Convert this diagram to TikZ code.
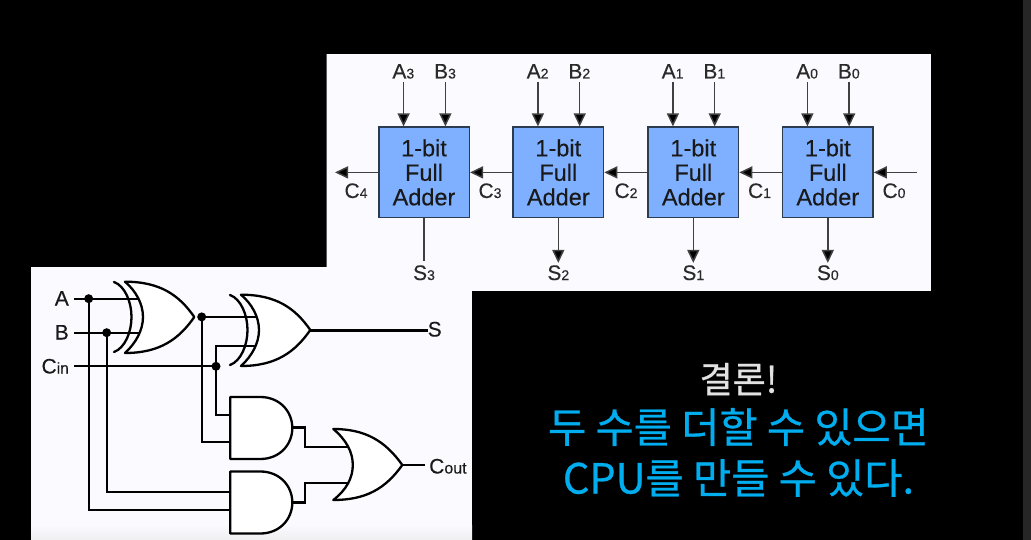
\documentclass[tikz,border=0pt]{standalone}
\usepackage{fontspec}
\setmainfont[FakeBold=0.2]{Liberation Sans}
\newfontfamily\krfont[FakeBold=0.7]{Noto Sans CJK KR}
\usetikzlibrary{arrows.meta}
\definecolor{panel}{HTML}{FAFAFF}
\definecolor{panellow}{HTML}{EFEFF2}
\definecolor{boxblue}{HTML}{7FB0FF}
\definecolor{boxedge}{HTML}{2B3B50}
\definecolor{ink}{HTML}{2A2A2A}
\definecolor{wire}{HTML}{404040}
\definecolor{headline}{HTML}{E2E2E2}
\definecolor{accent}{HTML}{00AEEF}
\definecolor{strip}{HTML}{262626}
\tikzset{
  x=1pt,y=-1pt,
  adder/.style={draw=boxedge,line width=1.5pt,fill=boxblue,minimum width=90.5pt,minimum height=90.5pt,inner sep=0pt,align=center,text=black!90,font=\fontsize{23.5}{24.5}\selectfont},
  lab/.style={inner sep=0pt,text=ink,font=\fontsize{21}{21}\selectfont},
  arrowwire/.style={draw=wire,line width=1.5pt,-{Triangle[length=13pt,width=12pt,fill=black]}},
  plainwire/.style={draw=wire,line width=1.5pt},
  logicwire/.style={draw=black,line width=2.2pt},
  gateline/.style={draw=black,line width=2.3pt,fill=white,line join=round},
  dot/.style={circle,fill=black,inner sep=0pt,minimum size=9pt},
  ctext/.style={inner sep=0pt,font=\krfont\fontsize{41.5}{41.5}\selectfont,text=accent},
  xorgate/.pic={
    \draw[draw=black,line width=2.3pt,line cap=round] (-11,-35) .. controls (0,-31) and (6.5,-15) .. (6.5,0) .. controls (6.5,15) and (0,31) .. (-11,35);
    \draw[gateline] (0,-35.3) .. controls (35,-35.3) and (54,-22) .. (69.3,0) .. controls (54,22) and (35,36) .. (0,36) .. controls (11,26) and (18,13) .. (18,0) .. controls (18,-13) and (11,-26) .. (0,-35.3) -- cycle;
  },
  andgate/.pic={
    \draw[gateline] (0,-31) -- (30,-31) .. controls (49,-31) and (62,-17) .. (62,0) .. controls (62,17) and (49,31) .. (30,31) -- (0,31) -- cycle;
  },
  orgate/.pic={
    \draw[gateline] (0,-36) .. controls (32,-36) and (52,-24) .. (69,0) .. controls (52,24) and (32,35) .. (0,35) .. controls (13,25) and (19.5,13) .. (19.5,0) .. controls (19.5,-13) and (13,-25) .. (0,-36) -- cycle;
  },
}
\newcommand{\sublab}[2]{#1{\fontsize{14}{14}\selectfont #2}}
\begin{document}
\begin{tikzpicture}
\useasboundingbox (0,0) rectangle (1031,540);
\fill[black] (0,0) rectangle (1031,540);
\fill[strip] (1023,0) rectangle (1031,540);
% top panel
\fill[panel] (326.5,54.5) rectangle (930.7,291);
\draw[draw=black!65,line width=1pt] (326.5,54.5) -- (326.5,267);
% bottom panel
\fill[panel] (31,267.5) rectangle (472,525);
\shade[top color=panel,bottom color=panellow] (31,525) rectangle (472,540);
% ---- ripple carry adder
\foreach \i/\cx in {3/424,2/558.3,1/693.3,0/827.8}{
  \node[adder] (fa\i) at (\cx,172.4) {1-bit\\Full\\Adder};
  \node[lab,anchor=base] (a\i) at (\cx-20.7,78.5) {\sublab{A}{\i}};
  \node[lab,anchor=base] (b\i) at (\cx+21,78.5) {\sublab{B}{\i}};
  \draw[arrowwire] (\cx-20.4,82) -- (\cx-20.4,126.4);
  \draw[arrowwire] (\cx+21.4,82) -- (\cx+21.4,126.4);
  \node[lab,anchor=base] (s\i) at (\cx,280) {\sublab{S}{\i}};
}
\draw[plainwire] (fa3.south) -- ++(0,43);
\foreach \i in {2,1,0}{
  \draw[arrowwire] (fa\i.south) -- ++(0,44.5);
}
\coordinate (cfour) at (335,172.4);
\coordinate (czero) at (917,172.4);
\draw[arrowwire] (fa3.west) -- (cfour);
\draw[arrowwire] (fa2.west) -- (fa3.east);
\draw[arrowwire] (fa1.west) -- (fa2.east);
\draw[arrowwire] (fa0.west) -- (fa1.east);
\draw[arrowwire] (czero) -- (fa0.east);
\node[lab,anchor=base] (c4) at (356,198) {\sublab{C}{4}};
\node[lab,anchor=base] (c3) at (490,198) {\sublab{C}{3}};
\node[lab,anchor=base] (c2) at (626,198) {\sublab{C}{2}};
\node[lab,anchor=base] (c1) at (759.5,198) {\sublab{C}{1}};
\node[lab,anchor=base] (c0) at (894,198) {\sublab{C}{0}};
% ---- full adder logic
\coordinate (astart) at (74.3,298.7);
\coordinate (bstart) at (74.3,332.7);
\coordinate (cstart) at (74.3,366.3);
\coordinate (adot) at (88.7,298.7);
\coordinate (bdot) at (106.7,332.7);
\coordinate (xdot) at (201.7,316.9);
\coordinate (cdot) at (216,366.3);
\node[lab,anchor=base east,text=black!90] (lA) at (69,305.5) {A};
\node[lab,anchor=base east,text=black!90] (lB) at (69,339.5) {B};
\node[lab,anchor=base east,text=black!90] (lC) at (69,373.5) {C{\fontsize{15.5}{15.5}\selectfont in}};
\node[lab,anchor=base west,text=black!90] (lS) at (427.5,336.5) {S};
\node[lab,anchor=base west,text=black!90] (lCo) at (429,473.5) {C{\fontsize{16}{16}\selectfont out}};
\draw[logicwire] (astart) -- (142,298.7);
\draw[logicwire] (bstart) -- (142,332.7);
\draw[logicwire] (cstart) -- (cdot);
\draw[logicwire] (xdot) -- (259,316.9);
\draw[logicwire,line join=miter] (cdot) |- (259,346);
\draw[logicwire,line join=miter] (cdot) |- (232,415.3);
\draw[logicwire,line join=miter] (xdot) |- (232,442.3);
\draw[logicwire,line join=miter] (bdot) |- (232,491.7);
\draw[logicwire,line join=miter] (adot) |- (232,510);
\draw[logicwire] (310,330.4) -- (lS.west |- 310,330.4);
\draw[logicwire,line join=miter] (292,427.5) -| (305,447.3) -- (350,447.3);
\draw[logicwire,line join=miter] (292,502.4) -| (305,482.7) -- (350,482.7);
\draw[logicwire] (402,465) -- (425,465);
\pic at (125,317) {xorgate};
\pic at (241,330) {xorgate};
\pic at (230.3,428) {andgate};
\pic at (230.3,502.5) {andgate};
\pic at (333.3,465) {orgate};
\node[dot] (ad) at (adot) {};
\node[dot] (bd) at (bdot) {};
\node[dot] (xd) at (xdot) {};
\node[dot] (cd) at (cdot) {};
% ---- conclusion
\node[ctext,text=headline,font=\krfont\fontsize{36}{36}\selectfont] (t1) at (738.5,379) {결론!};
\node[ctext] (t2) at (738.5,427) {두 수를 더할 수 있으면};
\node[ctext] (t3) at (738.5,478) {CPU를 만들 수 있다.};
\end{tikzpicture}
\end{document}
